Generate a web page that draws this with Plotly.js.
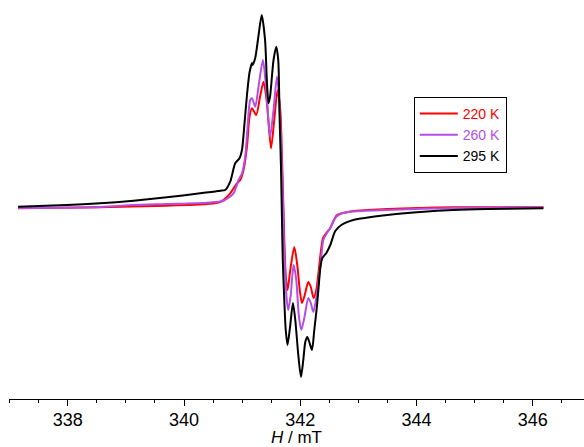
<!DOCTYPE html>
<html>
<head>
<meta charset="utf-8">
<script src="https://cdn.plot.ly/plotly-3.0.1.min.js"></script>
<style>
html,body{margin:0;padding:0;background:#fff;}
#chart{width:584px;height:447px;}
</style>
</head>
<body>
<div id="chart"></div>
<script>
// Field H (mT) and EPR signal (arbitrary units)
const field220 = [337.146,338.558,339.706,340.394,340.623,340.795,340.910,340.967,341.024,341.083,341.127,341.169,341.242,341.308,341.368,341.427,341.497,341.552,341.609,341.656,341.690,341.713,341.725,341.750,341.781,341.828,341.897,341.948,341.991,342.029,342.077,342.138,342.181,342.229,342.275,342.318,342.353,342.391,342.448,342.516,342.632,342.912,343.498,344.634,346.182];
const signal220 = [-0.8,0.2,1.8,3.5,5.5,14.2,24.2,27.5,37.5,60.8,90.8,99.2,92.5,110.8,125.8,104.2,59.2,87.5,117.5,97.5,40.8,-5.5,-32.5,-67.5,-82.5,-62.5,-39.5,-57.5,-82.5,-95.5,-87.5,-74.5,-79.5,-90.5,-82.5,-62.5,-44.5,-30.5,-25.5,-20.5,-7.5,-3.5,-1.5,0.2,0.2];

const field260 = [337.146,338.558,339.131,339.706,340.394,340.680,340.852,340.938,340.997,341.053,341.093,341.139,341.169,341.225,341.282,341.358,341.410,341.480,341.540,341.599,341.638,341.673,341.702,341.716,341.742,341.768,341.793,341.836,341.885,341.931,341.974,342.017,342.069,342.138,342.181,342.224,342.275,342.318,342.353,342.396,342.448,342.516,342.602,342.688,342.912,343.498,344.634,346.182];
const signal260 = [-0.5,0.5,2.5,3.5,4.8,6.8,14.2,27.5,34.2,50.8,80.8,107.5,109.2,100.8,120.8,147.5,120.8,70.8,97.5,130.8,107.5,57.5,7.5,-32.5,-67.5,-92.5,-102.5,-87.5,-57.5,-72.5,-107.5,-122.5,-110.5,-90.5,-95.5,-104.5,-90.5,-72.5,-54.5,-32.5,-26.5,-20.5,-10.5,-6.5,-4,-2.5,-0.5,0];

const field295 = [337.146,337.984,338.558,339.131,339.706,340.279,340.508,340.623,340.709,340.795,340.881,340.955,340.997,341.036,341.083,341.127,341.169,341.179,341.225,341.282,341.337,341.394,341.427,341.454,341.480,341.540,341.587,341.621,341.644,341.668,341.685,341.699,341.725,341.750,341.781,341.828,341.874,341.914,341.966,342.012,342.052,342.086,342.120,342.155,342.201,342.241,342.287,342.318,342.344,342.379,342.448,342.516,342.602,342.706,342.912,343.498,344.066,344.634,345.219,346.182];
const signal295 = [0.8,2.5,4.2,6.8,10.2,14.2,15.8,16.8,17.5,25.8,44.2,49.2,57.5,80.8,112.5,135,144.5,142.5,149.5,172,192.5,167.5,124.5,104.2,110.8,147.5,160.8,147.5,90.8,40.8,-12.5,-52.5,-92.5,-122.5,-137.5,-117.5,-95.5,-112.5,-147.5,-169.5,-152.5,-134.5,-129.5,-134.5,-142.5,-122.5,-98.5,-77.5,-60.5,-50.5,-45.5,-37.5,-23.5,-17.5,-12.5,-7.5,-4.5,-2.5,-1.5,-0.8];

const names = ['220 K','260 K','295 K'];
const colors = ['#ff0000','#b44ee6','#000000'];

const fields = [field220, field260, field295];
const signals = [signal220, signal260, signal295];

const traces = names.map((n, i) => ({
  x: fields[i],
  y: signals[i],
  type: 'scatter',
  mode: 'lines',
  name: '<span style="color:' + colors[i] + '">' + n + '</span>',
  line: {color: colors[i], width: 2, shape: 'spline', smoothing: 0.7}
}));

const layout = {
  width: 584,
  height: 447,
  margin: {l: 9, r: 0, t: 0, b: 48, pad: 0},
  paper_bgcolor: '#ffffff',
  plot_bgcolor: '#ffffff',
  font: {family: '"Liberation Sans", Arial, sans-serif', size: 18, color: '#000'},
  showlegend: true,
  legend: {
    x: 0.704, y: 0.757, xanchor: 'left', yanchor: 'top',
    bgcolor: '#ffffff', bordercolor: '#000', borderwidth: 1,
    font: {size: 14, family: '"Liberation Sans", Arial, sans-serif'},
    itemwidth: 38, tracegroupgap: 0
  },
  xaxis: {
    range: [336.99, 346.88],
    showgrid: false, zeroline: false,
    showline: true, linecolor: '#000', linewidth: 1,
    ticks: 'outside', ticklen: 6, tickwidth: 1, tickcolor: '#000',
    dtick: 2, tick0: 338,
    minor: {dtick: 0.5, ticks: 'outside', ticklen: 3, tickwidth: 1, tickcolor: '#000'},
    tickfont: {size: 18},
    ticklabelstandoff: -2,
    title: {text: '<i>H</i> / mT', font: {size: 17}, standoff: 5}
  },
  yaxis: {
    visible: false,
    range: [-191.5, 207.5],
    showgrid: false, zeroline: false
  }
};

Plotly.newPlot('chart', traces, layout, {displayModeBar: false, staticPlot: true});
</script>
</body>
</html>
